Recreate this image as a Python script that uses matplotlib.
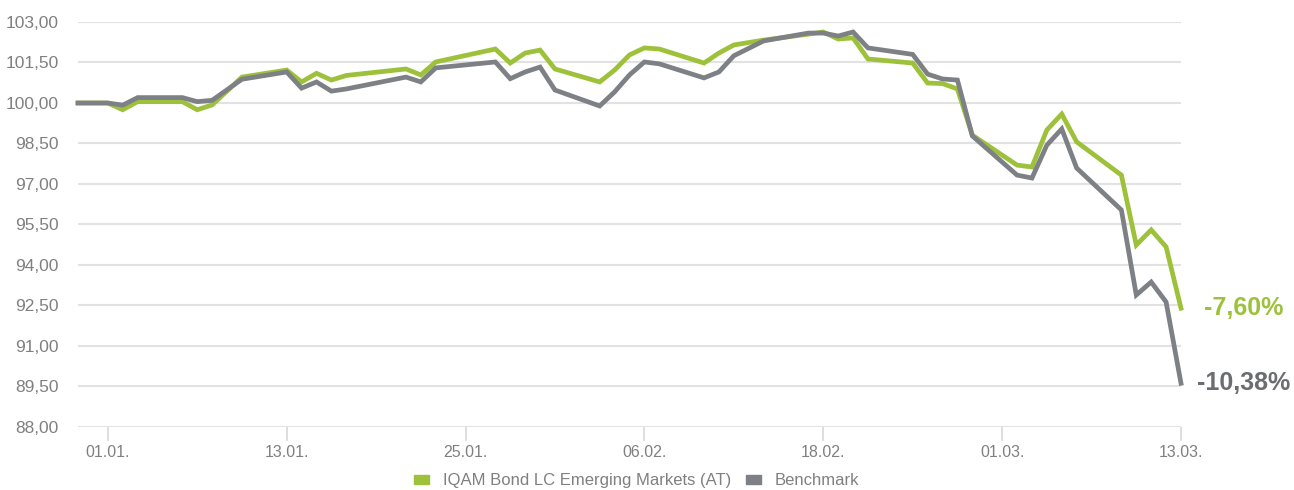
import numpy as np
import pandas as pd
import matplotlib
matplotlib.use("Agg")
import matplotlib.pyplot as plt
import matplotlib.dates as mdates
from matplotlib.patches import Patch

plt.rcParams['font.family'] = ['Liberation Sans', 'DejaVu Sans']

# trading days and indexed values (start = 100)
dates = ["2019-12-30", "2019-12-31", "2020-01-01", "2020-01-02", "2020-01-03",
         "2020-01-06", "2020-01-07", "2020-01-08", "2020-01-10", "2020-01-13",
         "2020-01-14", "2020-01-15", "2020-01-16", "2020-01-17", "2020-01-21",
         "2020-01-22", "2020-01-23", "2020-01-27", "2020-01-28", "2020-01-29",
         "2020-01-30", "2020-01-31", "2020-02-03", "2020-02-04", "2020-02-05",
         "2020-02-06", "2020-02-07", "2020-02-10", "2020-02-11", "2020-02-12",
         "2020-02-14", "2020-02-17", "2020-02-18", "2020-02-19", "2020-02-20",
         "2020-02-21", "2020-02-24", "2020-02-25", "2020-02-26", "2020-02-27",
         "2020-02-28", "2020-03-02", "2020-03-03", "2020-03-04", "2020-03-05",
         "2020-03-06", "2020-03-09", "2020-03-10", "2020-03-11", "2020-03-12",
         "2020-03-13"]

fund = [100.00, 100.00, 100.00, 99.75, 100.05,
        100.05, 99.75, 99.93, 100.96, 101.22,
        100.78, 101.10, 100.85, 101.02, 101.26,
        101.04, 101.52, 102.00, 101.48, 101.85,
        101.96, 101.26, 100.78, 101.22, 101.78,
        102.04, 102.00, 101.48, 101.85, 102.15,
        102.33, 102.55, 102.63, 102.37, 102.41,
        101.63, 101.48, 100.74, 100.72, 100.52,
        98.81, 97.70, 97.63, 99.00, 99.59,
        98.56, 97.33, 94.74, 95.30, 94.67,
        92.40]

bench = [100.00, 100.00, 100.00, 99.92, 100.20,
         100.20, 100.05, 100.10, 100.88, 101.15,
         100.55, 100.78, 100.44, 100.52, 100.96,
         100.78, 101.30, 101.52, 100.90, 101.15,
         101.33, 100.48, 99.89, 100.41, 101.04,
         101.52, 101.45, 100.93, 101.15, 101.75,
         102.30, 102.59, 102.59, 102.48, 102.63,
         102.04, 101.80, 101.07, 100.89, 100.85,
         98.78, 97.33, 97.22, 98.44, 99.04,
         97.59, 96.04, 92.89, 93.37, 92.63,
         89.62]

tick_dates = ["2020-01-01", "2020-01-13", "2020-01-25", "2020-02-06",
              "2020-02-18", "2020-03-01", "2020-03-13"]
y_ticks = [88.0, 89.5, 91.0, 92.5, 94.0, 95.5, 97.0, 98.5, 100.0, 101.5, 103.0]

labels = ["IQAM Bond LC Emerging Markets (AT)", "Benchmark"]

green = "#9dc13a"
grey = "#7d8085"
grey_text = "#6b6d70"
label_col = "#808080"

x = pd.to_datetime(dates)

fig = plt.figure(figsize=(12.94, 4.90), dpi=100)
ax = fig.add_axes([78 / 1294, 63 / 490, 1103 / 1294, 405 / 490])

# fund first, benchmark drawn on top
ax.plot(x, fund, color=green, lw=3.4, solid_joinstyle="miter", clip_on=False, zorder=2)
ax.plot(x, bench, color=grey, lw=3.4, solid_joinstyle="miter", clip_on=False, zorder=3)

ax.set_xlim(pd.Timestamp("2019-12-30"), pd.Timestamp("2020-03-13"))
ax.set_ylim(88, 103)

ax.set_yticks(y_ticks)
ax.set_yticklabels([("%.2f" % v).replace(".", ",") for v in y_ticks])
ax.set_xticks(pd.to_datetime(tick_dates))
ax.xaxis.set_major_formatter(mdates.DateFormatter("%d.%m."))

ax.grid(axis="y", color="#e2e2e2", lw=1.5)
ax.set_axisbelow(True)
for s in ax.spines.values():
    s.set_visible(False)

ax.tick_params(axis="y", length=0, pad=14, labelsize=12.5, labelcolor=label_col)
ax.tick_params(axis="x", length=10, width=1.2, color="#d8d8d8", pad=3,
               labelsize=11.5, labelcolor=label_col)

# performance since start, written next to the last point
for vals, col in [(fund, green), (bench, grey_text)]:
    pct = (vals[-1] / vals[0] - 1) * 100
    txt = ("%.2f%%" % pct).replace(".", ",")
    ax.annotate(txt, xy=(x[-1], vals[-1]), xytext=(45, 0), textcoords="offset points",
                ha="center", va="center", fontsize=18, fontweight="bold", color=col,
                annotation_clip=False)

handles = [Patch(color=green), Patch(color=grey)]
fig.legend(handles, labels, loc="center", bbox_to_anchor=(0.492, 0.019),
           ncol=2, frameon=False, fontsize=12, labelcolor=label_col,
           handlelength=0.9, handleheight=0.45, handletextpad=0.8, columnspacing=0.9)

fig.savefig("out.png", dpi=100)
